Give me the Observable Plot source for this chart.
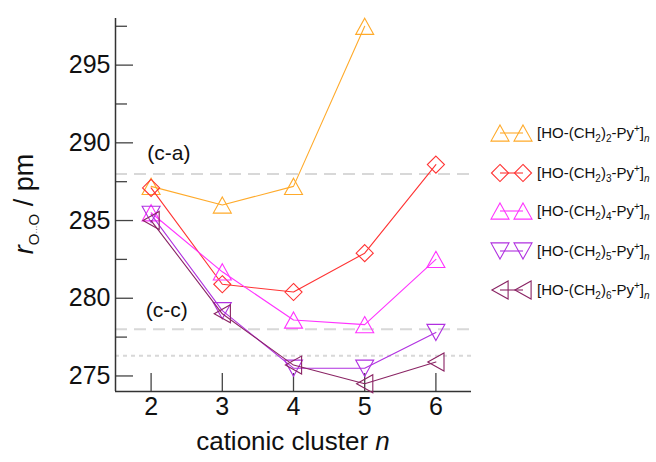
<!DOCTYPE html>
<html><head><meta charset="utf-8">
<script src="https://cdn.jsdelivr.net/npm/d3@7"></script>
<script src="https://cdn.jsdelivr.net/npm/@observablehq/plot@0.6"></script>
<style>
body{margin:0;background:#fff;font-family:"Liberation Sans",Arial,Helvetica,sans-serif}
#chart{position:relative;width:656px;height:462px}
</style></head><body><div id="chart"></div>
<script>
// cluster sizes n
const clusterSizes = [2, 3, 4, 5, 6];
// r(O...O) in pm for [HO-(CH2)k-Py+]n, k = 2..6
const chainLengths = [2, 3, 4, 5, 6];
const rC2 = [287.2, 286.0, 287.2, 297.5];
const rC3 = [287.1, 280.9, 280.4, 282.9, 288.6];
const rC4 = [285.5, 281.7, 278.6, 278.3, 282.5];
const rC5 = [285.4, 279.2, 275.5, 275.5, 277.8];
const rC6 = [285.0, 279.0, 275.7, 274.5, 275.9];
const seriesColors = ["#ffaa2a", "#ff3333", "#ff33ff", "#b030e0", "#8a2464"];
const yMajorTicks = [275, 280, 285, 290, 295];
const yMinorTicks = [277.5, 282.5, 287.5, 292.5, 297.5];
const xDomain = [1.5, 6.5];
const yDomain = [274, 298];
const dashedRefs = [288, 278];
const dottedRefs = [276.3];
const refLabels = ["(c-a)", "(c-c)"];
const refLabelN = [2.25, 2.22];
const refLabelR = [289.3, 279.2];

// custom symbols
const symUp = {draw(c, s){const r=Math.sqrt(s/Math.PI); c.moveTo(0,-r*0.9); c.lineTo(r,r*0.9); c.lineTo(-r,r*0.9); c.closePath();}};
const symDown = {draw(c, s){const r=Math.sqrt(s/Math.PI); c.moveTo(0,r*0.9); c.lineTo(r,-r*0.9); c.lineTo(-r,-r*0.9); c.closePath();}};
const symLeft = {draw(c, s){const r=Math.sqrt(s/Math.PI); c.moveTo(-r*0.9,0); c.lineTo(r*0.9,-r); c.lineTo(r*0.9,r); c.closePath();}};
const symDiamond = {draw(c, s){const r=Math.sqrt(s/Math.PI)*0.95; c.moveTo(0,-r); c.lineTo(r,0); c.lineTo(0,r); c.lineTo(-r,0); c.closePath();}};
const seriesSymbols = [symUp, symDiamond, symUp, symDown, symLeft];

const seriesValues = [rC2, rC3, rC4, rC5, rC6];
const seriesData = seriesValues.map((vals, i) => vals.map((v, j) => ({n: clusterSizes[j], r: v})));
const refLabelData = refLabels.map((t, i) => ({t, n: refLabelN[i], r: refLabelR[i]}));

const marks = [
  Plot.ruleY(dashedRefs, {stroke: "#d8d8d8", strokeWidth: 2, strokeDasharray: "12,7"}),
  Plot.ruleY(dottedRefs, {stroke: "#d8d8d8", strokeWidth: 2, strokeDasharray: "4,4"}),
  Plot.text(refLabelData, {x: "n", y: "r", text: "t", fontSize: 21, fill: "#111"}),
  Plot.axisY(yMajorTicks, {tickSize: -18, tickFormat: () => "", stroke: "#444", strokeWidth: 1.3, label: null}),
  Plot.axisY(yMinorTicks, {tickSize: -12, tickFormat: () => "", stroke: "#444", strokeWidth: 1.3, label: null}),
  Plot.axisY(yMajorTicks, {tickSize: 0, tickPadding: 5, fontSize: 25, fill: "#111", label: null}),
  Plot.axisX(clusterSizes, {tickSize: -18, tickFormat: () => "", stroke: "#444", strokeWidth: 1.3, label: null}),
  Plot.axisX(clusterSizes, {tickSize: 0, tickPadding: 6, fontSize: 25, fill: "#111", label: null}),
  Plot.ruleX([xDomain[0]], {stroke: "#333", strokeWidth: 1.5}),
  Plot.ruleY([yDomain[0]], {stroke: "#333", strokeWidth: 1.5})
];
seriesData.forEach((d, i) => {
  marks.push(Plot.line(d, {x: "n", y: "r", stroke: seriesColors[i], strokeWidth: 1.1}));
  marks.push(Plot.dot(d, {x: "n", y: "r", symbol: seriesSymbols[i], r: 9, stroke: seriesColors[i], strokeWidth: 1.1, fill: "none"}));
});

const svg = Plot.plot({
  width: 656, height: 462,
  marginLeft: 115, marginRight: 185, marginTop: 18, marginBottom: 71,
  style: {fontFamily: '"Liberation Sans", Arial, Helvetica, sans-serif', background: "#fff"},
  x: {domain: xDomain, axis: null},
  y: {domain: yDomain, axis: null},
  marks
});
document.getElementById("chart").appendChild(svg);

const S = d3.select(svg);
// y-axis title
const yl = S.append("text").attr("transform", "translate(33,204) rotate(-90)")
  .attr("text-anchor", "middle").attr("font-size", 27).attr("fill", "#111");
yl.append("tspan").attr("font-style", "italic").text("r");
yl.append("tspan").attr("font-size", 15).attr("dy", 6).text("O");
yl.append("tspan").attr("font-size", 8).text("···");
yl.append("tspan").attr("font-size", 15).text("O");
yl.append("tspan").attr("dy", -6).text(" / pm");
// x-axis title
const xl = S.append("text").attr("x", 293).attr("y", 450).attr("text-anchor", "middle")
  .attr("font-size", 26).attr("fill", "#111");
xl.append("tspan").text("cationic cluster ");
xl.append("tspan").attr("font-style", "italic").text("n");

// legend
const legendY = [133, 173, 211, 251, 290];
chainLengths.forEach((k, i) => {
  const g = S.append("g").attr("transform", `translate(0,${legendY[i]})`);
  g.append("line").attr("x1", 500).attr("x2", 523).attr("y1", 0).attr("y2", 0)
    .attr("stroke", seriesColors[i]).attr("stroke-width", 1.1);
  [500, 523].forEach(x => g.append("path")
    .attr("d", d3.symbol().type(seriesSymbols[i]).size(81 * Math.PI)())
    .attr("transform", `translate(${x},0)`)
    .attr("fill", "none").attr("stroke", seriesColors[i]).attr("stroke-width", 1.1));
  const t = g.append("text").attr("x", 537).attr("y", 5).attr("font-size", 15)
    .attr("text-anchor", "start").attr("fill", "#111");
  t.append("tspan").text("[HO-(CH");
  t.append("tspan").attr("font-size", 10).attr("dy", 4).text("2");
  t.append("tspan").attr("dy", -4).text(")");
  t.append("tspan").attr("font-size", 10).attr("dy", 4).text(String(k));
  t.append("tspan").attr("dy", -4).text("-Py");
  t.append("tspan").attr("font-size", 10).attr("dy", -6).text("+");
  t.append("tspan").attr("dy", 6).text("]");
  t.append("tspan").attr("font-size", 10).attr("font-style", "italic").attr("dy", 4).text("n");
});
</script></body></html>
